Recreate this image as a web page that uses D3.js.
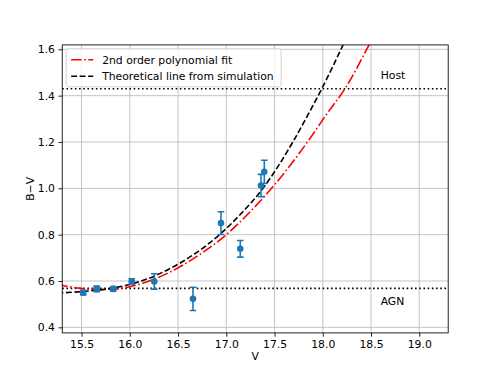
<!DOCTYPE html>
<html lang="en">
<head>
    <meta charset="UTF-8">
    <title>B-V vs V</title>
    <script src="https://cdn.jsdelivr.net/npm/d3@7"></script>
    <style>
        body { margin: 0; background: #fff; }
        text { font-family: "DejaVu Sans", sans-serif; }
    </style>
</head>
<body>
<div id="chart"></div>
<script>
// observed points
const vMag = [15.518, 15.657, 15.829, 16.02, 16.254, 16.655, 16.945, 17.145, 17.36, 17.394];
const bv = [0.55, 0.566, 0.566, 0.598, 0.598, 0.523, 0.85, 0.739, 1.012, 1.071];
const bvErr = [0.01, 0.012, 0.01, 0.012, 0.033, 0.05, 0.049, 0.036, 0.048, 0.05];

// curves
const fitV = [15.25, 15.3, 15.5, 15.65, 15.8, 16.0, 16.2, 16.4, 16.72, 17.0, 17.25, 17.5, 17.85, 18.04, 18.23, 18.48, 18.6];
const fitBV = [0.588, 0.582, 0.568, 0.563, 0.564, 0.575, 0.6, 0.635, 0.713, 0.80, 0.90, 1.015, 1.205, 1.32, 1.43, 1.62, 1.72];
const simV = [15.25, 15.3, 15.5, 15.8, 16.0, 16.2, 16.4, 16.7, 16.93, 17.14, 17.38, 17.69, 17.85, 17.99, 18.21, 18.3];
const simBV = [0.548, 0.549, 0.554, 0.568, 0.585, 0.612, 0.65, 0.725, 0.8, 0.885, 1.0, 1.2, 1.32, 1.43, 1.619, 1.70];

const hostLevel = 1.43, agnLevel = 0.568;
const xTicks = [15.5, 16.0, 16.5, 17.0, 17.5, 18.0, 18.5, 19.0];
const yTicks = [0.4, 0.6, 0.8, 1.0, 1.2, 1.4, 1.6];
const legendLabels = ['2nd order polynomial fit', 'Theoretical line from simulation'];

const W = 498, H = 374;
const m = {left: 62.25, right: 49.8, top: 44.9, bottom: 41.1};

const svg = d3.select('#chart').append('svg')
    .attr('width', W).attr('height', H);

const x = d3.scaleLinear().domain([15.3, 19.3]).range([m.left, W - m.right]);
const y = d3.scaleLinear().domain([0.376, 1.619]).range([H - m.bottom, m.top]);

svg.append('defs').append('clipPath').attr('id', 'clip')
    .append('rect')
    .attr('x', m.left).attr('y', m.top)
    .attr('width', W - m.left - m.right).attr('height', H - m.top - m.bottom);

// grid
const grid = svg.append('g').attr('stroke', '#b0b0b0').attr('stroke-width', 0.9).attr('opacity', 0.8);
grid.selectAll('line.vx').data(xTicks).join('line')
    .attr('x1', d => x(d)).attr('x2', d => x(d))
    .attr('y1', m.top).attr('y2', H - m.bottom);
grid.selectAll('line.hy').data(yTicks).join('line')
    .attr('x1', m.left).attr('x2', W - m.right)
    .attr('y1', d => y(d)).attr('y2', d => y(d));

const plot = svg.append('g').attr('clip-path', 'url(#clip)');

// host / agn levels
plot.selectAll('line.level').data([hostLevel, agnLevel]).join('line')
    .attr('x1', m.left).attr('x2', W - m.right)
    .attr('y1', d => y(d)).attr('y2', d => y(d))
    .attr('stroke', '#000').attr('stroke-width', 1.6)
    .attr('stroke-dasharray', '1.6,2.6');

const line = d3.line().curve(d3.curveMonotoneX);

plot.append('path')
    .attr('d', line(fitV.map((v, i) => [x(v), y(fitBV[i])])))
    .attr('fill', 'none').attr('stroke', 'red').attr('stroke-width', 1.6)
    .attr('stroke-dasharray', '10.4,2.6,1.6,2.6');

plot.append('path')
    .attr('d', line(simV.map((v, i) => [x(v), y(simBV[i])])))
    .attr('fill', 'none').attr('stroke', '#000').attr('stroke-width', 1.6)
    .attr('stroke-dasharray', '5.9,2.6');

// error bars
const pts = vMag.map((v, i) => ({v: v, bv: bv[i], e: bvErr[i]}));
const eb = plot.append('g').attr('stroke', '#1f77b4').attr('stroke-width', 1.6);
eb.selectAll('line.bar').data(pts).join('line')
    .attr('x1', d => x(d.v)).attr('x2', d => x(d.v))
    .attr('y1', d => y(d.bv - d.e)).attr('y2', d => y(d.bv + d.e));
eb.selectAll('line.capLo').data(pts).join('line')
    .attr('x1', d => x(d.v) - 3.3).attr('x2', d => x(d.v) + 3.3)
    .attr('y1', d => y(d.bv - d.e)).attr('y2', d => y(d.bv - d.e));
eb.selectAll('line.capHi').data(pts).join('line')
    .attr('x1', d => x(d.v) - 3.3).attr('x2', d => x(d.v) + 3.3)
    .attr('y1', d => y(d.bv + d.e)).attr('y2', d => y(d.bv + d.e));
plot.selectAll('circle').data(pts).join('circle')
    .attr('cx', d => x(d.v)).attr('cy', d => y(d.bv))
    .attr('r', 3.3).attr('fill', '#1f77b4');

// annotations
svg.append('text').attr('x', x(18.6)).attr('y', y(1.47))
    .attr('font-size', 10.8).text('Host');
svg.append('text').attr('x', x(18.6)).attr('y', y(0.496))
    .attr('font-size', 10.8).text('AGN');

// axes
const xAxis = svg.append('g').attr('transform', `translate(0,${H - m.bottom})`)
    .call(d3.axisBottom(x).tickValues(xTicks).tickFormat(d3.format('.1f')).tickSizeOuter(0).tickSize(3.8).tickPadding(3.5));
const yAxis = svg.append('g').attr('transform', `translate(${m.left},0)`)
    .call(d3.axisLeft(y).tickValues(yTicks).tickFormat(d3.format('.1f')).tickSizeOuter(0).tickSize(3.8).tickPadding(3.5));
[xAxis, yAxis].forEach(a => {
    a.select('.domain').remove();
    a.selectAll('text').attr('font-size', 10.8).attr('fill', '#000')
        .attr('font-family', '"DejaVu Sans", sans-serif');
    a.selectAll('line').attr('stroke', '#000').attr('stroke-width', 0.86);
});

svg.append('rect')
    .attr('x', m.left).attr('y', m.top)
    .attr('width', W - m.left - m.right).attr('height', H - m.top - m.bottom)
    .attr('fill', 'none').attr('stroke', '#000').attr('stroke-width', 0.86);

svg.append('text').attr('x', (m.left + W - m.right) / 2).attr('y', 360)
    .attr('text-anchor', 'middle').attr('font-size', 10.8).text('V');
svg.append('text')
    .attr('transform', `translate(34,${(m.top + H - m.bottom) / 2}) rotate(-90)`)
    .attr('text-anchor', 'middle').attr('font-size', 10.8).text('B\u2212V');

// legend
const lg = svg.append('g').attr('transform', `translate(${m.left + 3.9},${m.top + 3.9})`);
lg.append('rect').attr('width', 215).attr('height', 38).attr('rx', 2.5)
    .attr('fill', '#fff').attr('fill-opacity', 0.8)
    .attr('stroke', '#ccc').attr('stroke-width', 0.86);
const styles = [{c: 'red', dash: '10.4,2.6,1.6,2.6'}, {c: '#000', dash: '5.9,2.6'}];
legendLabels.forEach((t, i) => {
    const yy = 11 + i * 16.5;
    lg.append('line').attr('x1', 5).attr('x2', 27).attr('y1', yy).attr('y2', yy)
        .attr('stroke', styles[i].c).attr('stroke-width', 1.6)
        .attr('stroke-dasharray', styles[i].dash);
    lg.append('text').attr('x', 36).attr('y', yy + 3.9).attr('font-size', 10.8).text(t);
});
</script>
</body>
</html>
